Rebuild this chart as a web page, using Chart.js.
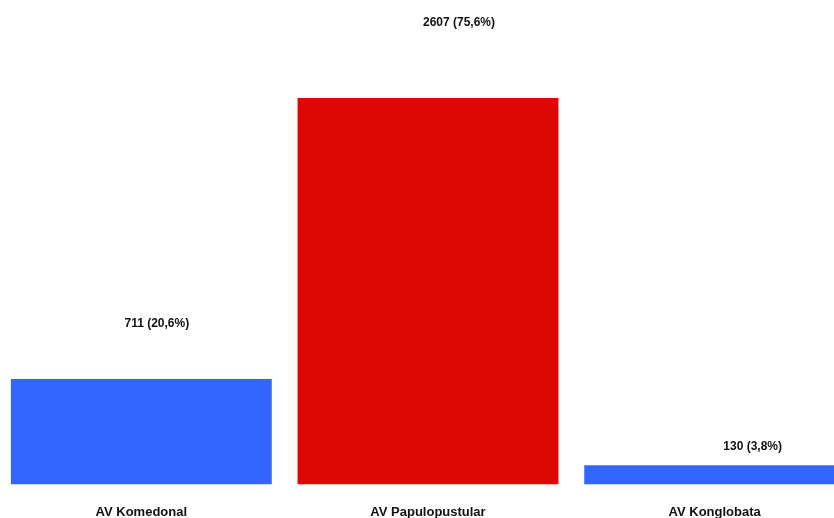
<!DOCTYPE html>
<html>
<head>
<meta charset="utf-8">
<script src="https://cdn.jsdelivr.net/npm/chart.js@4.4.1/dist/chart.umd.min.js"></script>
<style>
  html, body { margin: 0; padding: 0; background: #fff; overflow: hidden; }
  #wrap { position: absolute; left: -2px; top: 0; width: 860px; height: 540px; }
</style>
</head>
<body>
<div id="wrap"><canvas id="acneChart" width="860" height="540"></canvas></div>
<script>
const categories = ["AV Komedonal", "AV Papulopustular", "AV Konglobata"];
const counts = [711, 2607, 130];
const percents = [20.6, 75.6, 3.8];
const barColors = ["#3366ff", "#dd0803", "#3366ff"];

// where each value label sits relative to the top centre of its bar (px)
const labelShift = [
  { dx: 15.5, dy: 52.5 },
  { dx: 31, dy: 71.5 },
  { dx: 38, dy: 15.5 }
];

const valueLabels = {
  id: "valueLabels",
  afterDatasetsDraw(chart) {
    const ctx = chart.ctx;
    const meta = chart.getDatasetMeta(0);
    ctx.save();
    ctx.font = "bold 12px 'Liberation Sans', Arial, sans-serif";
    ctx.fillStyle = "#111";
    ctx.textAlign = "center";
    ctx.textBaseline = "alphabetic";
    meta.data.forEach((bar, i) => {
      const txt = counts[i] + " (" + percents[i].toFixed(1).replace(".", ",") + "%)";
      ctx.fillText(txt, bar.x + labelShift[i].dx, bar.y - labelShift[i].dy);
    });
    ctx.restore();
  }
};

new Chart(document.getElementById("acneChart"), {
  type: "bar",
  data: {
    labels: categories,
    datasets: [{
      data: counts,
      backgroundColor: barColors,
      borderWidth: 0,
      categoryPercentage: 1,
      barPercentage: 0.91
    }]
  },
  options: {
    responsive: false,
    animation: false,
    layout: { padding: 0 },
    plugins: {
      legend: { display: false },
      tooltip: { enabled: false }
    },
    scales: {
      x: {
        border: { display: false },
        grid: { display: false, drawTicks: false },
        ticks: {
          padding: 20,
          color: "#111",
          font: { family: "'Liberation Sans', Arial, sans-serif", size: 13, weight: "bold" }
        }
      },
      y: {
        display: false,
        min: 0,
        max: 3268
      }
    }
  },
  plugins: [valueLabels]
});
</script>
</body>
</html>
